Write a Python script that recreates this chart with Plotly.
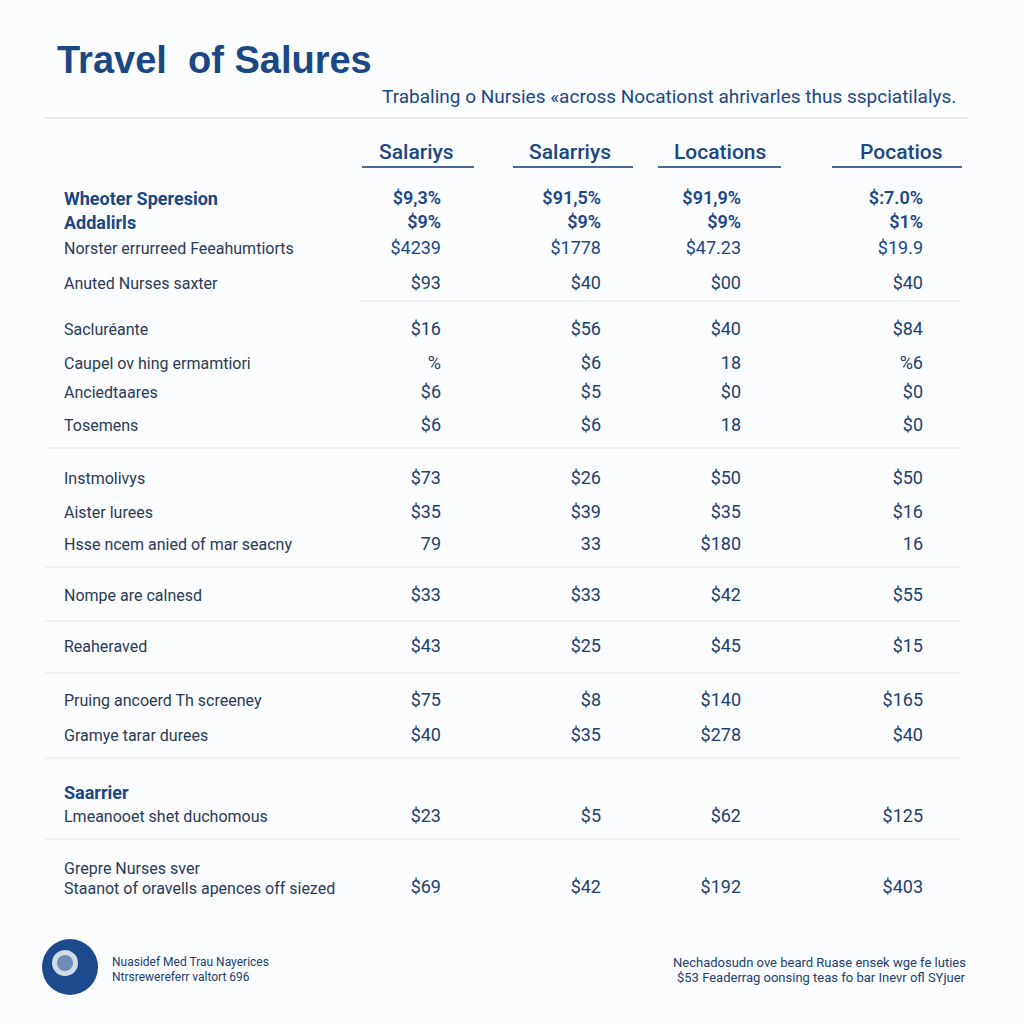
import plotly.graph_objects as go

# ---------------- data ----------------
title = "Travel  of Salures"
subtitle = "Trabaling o Nursies \u00abacross Nocationst ahrivarles thus sspciatilalys."
col_headers = ["Salariys", "Salarriys", "Locations", "Pocatios"]

row_labels = [
    "Wheoter Speresion",
    "Addalirls",
    "Norster errurreed Feeahumtiorts",
    "Anuted Nurses saxter",
    "Sacluréante",
    "Caupel ov hing ermamtiori",
    "Anciedtaares",
    "Tosemens",
    "Instmolivys",
    "Aister lurees",
    "Hsse ncem anied of mar seacny",
    "Nompe are calnesd",
    "Reaheraved",
    "Pruing ancoerd Th screeney",
    "Gramye tarar durees",
    "Saarrier",
    "Lmeanooet shet duchomous",
    "Grepre Nurses sver",
    "Staanot of oravells apences off siezed",
]
bold_rows = ["Wheoter Speresion", "Addalirls", "Saarrier"]

col1 = ["$9,3%", "$9%", "$4239", "$93", "$16", "%", "$6", "$6", "$73", "$35", "79",
        "$33", "$43", "$75", "$40", "", "$23", "", "$69"]
col2 = ["$91,5%", "$9%", "$1778", "$40", "$56", "$6", "$5", "$6", "$26", "$39", "33",
        "$33", "$25", "$8", "$35", "", "$5", "", "$42"]
col3 = ["$91,9%", "$9%", "$47.23", "$00", "$40", "18", "$0", "18", "$50", "$35", "$180",
        "$42", "$45", "$140", "$278", "", "$62", "", "$192"]
col4 = ["$:7.0%", "$1%", "$19.9", "$40", "$84", "%6", "$0", "$0", "$50", "$16", "16",
        "$55", "$15", "$165", "$40", "", "$125", "", "$403"]
columns = [col1, col2, col3, col4]

footer_left = ["Nuasidef Med Trau Nayerices", "Ntrsrewereferr valtort 696"]
footer_right = ["Nechadosudn ove beard Ruase ensek wge fe luties",
                "$53 Feaderrag oonsing teas fo bar Inevr ofl SYjuer"]

# ---------------- layout (positions / styles) ----------------
NAVY = "#1b4785"
TEXT = "#2a3a55"
VAL = "#22406f"
row_y = [198, 222, 248, 283, 329, 363, 392, 425, 478, 512, 544, 595, 646, 700, 735,
         792, 816, 868, 888]
col_center = [416, 570, 720, 901]
col_right = [441, 601, 741, 923]
underline = [(362, 474), (513, 633), (658, 781), (832, 962)]
separators = [(360, 960, 301), (45, 960, 448), (45, 960, 567), (45, 960, 621),
              (45, 960, 673), (45, 960, 758), (45, 960, 839)]

fig = go.Figure()

# value columns through the data scale
for ci, vals in enumerate(columns):
    ys = [row_y[i] + (0 if i == 18 else 1) for i in range(len(vals))]
    fig.add_trace(go.Scatter(
        x=[col_right[ci]] * len(vals), y=ys, mode="text", text=vals,
        textposition="middle left",
        textfont=dict(family="Roboto", size=18,
                      color=[NAVY if i < 3 else VAL for i in range(len(vals))],
                      weight=[600 if i < 2 else 400 for i in range(len(vals))]),
        hoverinfo="skip", showlegend=False))

annotations = []
annotations.append(dict(x=55, y=60, text=f"<b>{title}</b>", showarrow=False, xanchor="left",
                        yanchor="middle", font=dict(family="Liberation Sans", size=38, color=NAVY)))
annotations.append(dict(x=958, y=96, text=subtitle, showarrow=False, xanchor="right",
                        yanchor="middle", font=dict(family="Roboto", size=19, color=NAVY)))
for h, xc in zip(col_headers, col_center):
    annotations.append(dict(x=xc, y=152, text=h, showarrow=False, xanchor="center", yanchor="middle",
                            font=dict(family="Roboto", size=21, color=NAVY, weight=500)))
for lab, y in zip(row_labels, row_y):
    b = lab in bold_rows
    annotations.append(dict(x=62, y=y, text=(f"<b>{lab}</b>" if b else lab), showarrow=False,
                            xanchor="left", yanchor="middle",
                            font=dict(family="Roboto", size=18 if b else 16,
                                      color=NAVY if b else TEXT)))
for i, t in enumerate(footer_left):
    annotations.append(dict(x=110, y=962 + 15 * i, text=t, showarrow=False, xanchor="left",
                            yanchor="middle", font=dict(family="Roboto", size=12, color=VAL)))
for i, t in enumerate(footer_right):
    annotations.append(dict(x=968, y=962 + 15 * i, text=t, showarrow=False, xanchor="right",
                            yanchor="middle", font=dict(family="Roboto", size=13, color=VAL)))

shapes = []
shapes.append(dict(type="line", x0=45, x1=968, y0=118, y1=118, line=dict(color="#e3e6ea", width=1.5)))
for x0, x1 in underline:
    shapes.append(dict(type="line", x0=x0, x1=x1, y0=167, y1=167, line=dict(color="#4a6a94", width=2)))
for x0, x1, y in separators:
    shapes.append(dict(type="line", x0=x0, x1=x1, y0=y, y1=y, line=dict(color="#eceef1", width=1.5)))
# logo
shapes.append(dict(type="circle", x0=42, x1=98, y0=939, y1=995, fillcolor="#1d4a8c", line=dict(width=0)))
shapes.append(dict(type="circle", x0=52, x1=78, y0=950, y1=976, fillcolor="#ffffff", line=dict(width=0),
                   opacity=0.8))
shapes.append(dict(type="circle", x0=57, x1=73, y0=955, y1=971, fillcolor="#1d4a8c", line=dict(width=0),
                   opacity=0.55))

fig.update_layout(
    width=1024, height=1024, margin=dict(l=0, r=0, t=0, b=0),
    paper_bgcolor="#fbfcfd", plot_bgcolor="#fbfcfd",
    xaxis=dict(range=[0, 1024], visible=False, fixedrange=True),
    yaxis=dict(range=[1024, 0], visible=False, fixedrange=True),
    annotations=annotations, shapes=shapes, showlegend=False,
)
fig.write_html("out.html", config={"displayModeBar": False},
               post_script="document.body.style.margin='0';document.body.style.overflow='hidden';")
